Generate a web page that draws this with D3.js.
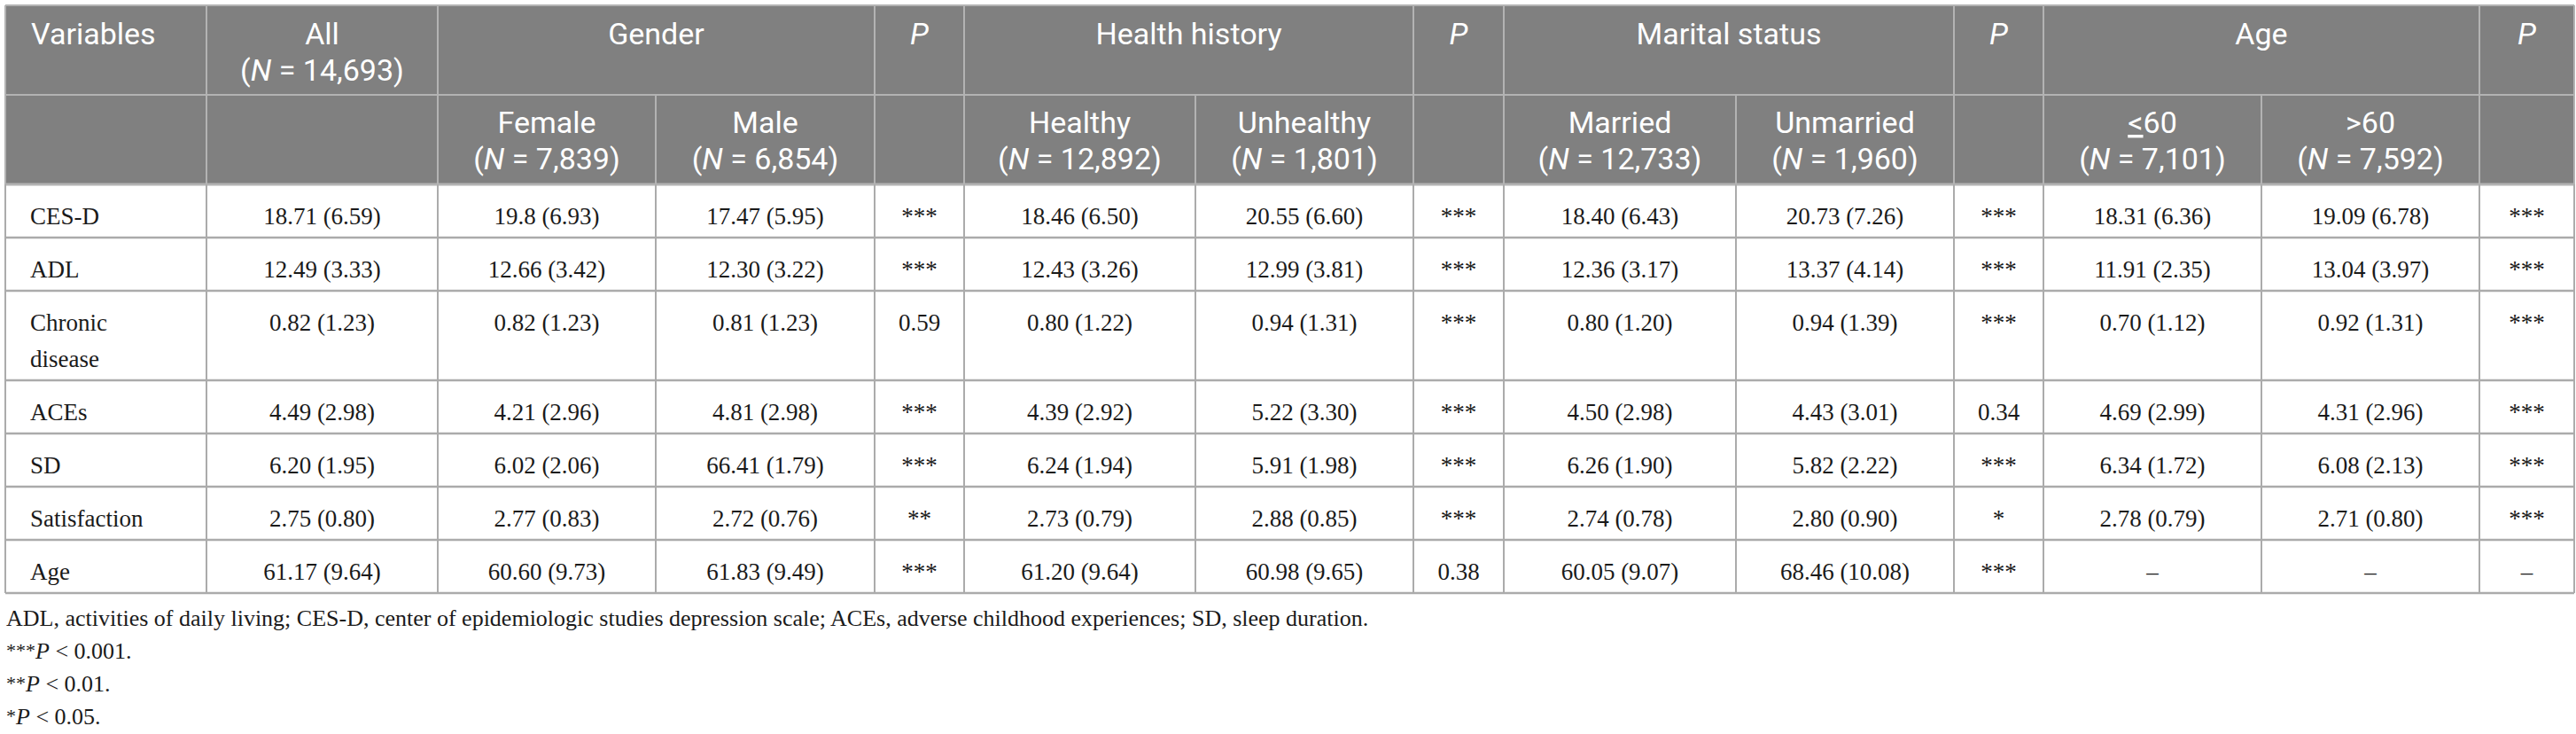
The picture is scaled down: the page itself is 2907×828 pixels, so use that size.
<!DOCTYPE html>
<html>
<head>
<meta charset="utf-8">
<script src="https://cdn.jsdelivr.net/npm/d3@7/dist/d3.min.js"></script>
<style>
  html, body { margin: 0; padding: 0; background: #fff; }
  svg { display: block; }
</style>
</head>
<body>
<svg id="chart" width="2907" height="828"></svg>
<script>
// ---------------- DATA ----------------
const variables = ["CES-D", "ADL", "Chronic disease", "ACEs", "SD", "Satisfaction", "Age"];

const groupLabels = ["Gender", "Health history", "Marital status", "Age"];
const allLabel = "All";
const allN = "14,693";
const subLabels = ["Female", "Male", "Healthy", "Unhealthy", "Married", "Unmarried", "\u226460", ">60"];
const subNs = ["7,839", "6,854", "12,892", "1,801", "12,733", "1,960", "7,101", "7,592"];

const allValues      = ["18.71 (6.59)", "12.49 (3.33)", "0.82 (1.23)", "4.49 (2.98)", "6.20 (1.95)", "2.75 (0.80)", "61.17 (9.64)"];
const femaleValues   = ["19.8 (6.93)", "12.66 (3.42)", "0.82 (1.23)", "4.21 (2.96)", "6.02 (2.06)", "2.77 (0.83)", "60.60 (9.73)"];
const maleValues     = ["17.47 (5.95)", "12.30 (3.22)", "0.81 (1.23)", "4.81 (2.98)", "66.41 (1.79)", "2.72 (0.76)", "61.83 (9.49)"];
const pGender        = ["***", "***", "0.59", "***", "***", "**", "***"];
const healthyValues  = ["18.46 (6.50)", "12.43 (3.26)", "0.80 (1.22)", "4.39 (2.92)", "6.24 (1.94)", "2.73 (0.79)", "61.20 (9.64)"];
const unhealthyValues= ["20.55 (6.60)", "12.99 (3.81)", "0.94 (1.31)", "5.22 (3.30)", "5.91 (1.98)", "2.88 (0.85)", "60.98 (9.65)"];
const pHealth        = ["***", "***", "***", "***", "***", "***", "0.38"];
const marriedValues  = ["18.40 (6.43)", "12.36 (3.17)", "0.80 (1.20)", "4.50 (2.98)", "6.26 (1.90)", "2.74 (0.78)", "60.05 (9.07)"];
const unmarriedValues= ["20.73 (7.26)", "13.37 (4.14)", "0.94 (1.39)", "4.43 (3.01)", "5.82 (2.22)", "2.80 (0.90)", "68.46 (10.08)"];
const pMarital       = ["***", "***", "***", "0.34", "***", "*", "***"];
const ageLeValues    = ["18.31 (6.36)", "11.91 (2.35)", "0.70 (1.12)", "4.69 (2.99)", "6.34 (1.72)", "2.78 (0.79)", "\u2013"];
const ageGtValues    = ["19.09 (6.78)", "13.04 (3.97)", "0.92 (1.31)", "4.31 (2.96)", "6.08 (2.13)", "2.71 (0.80)", "\u2013"];
const pAge           = ["***", "***", "***", "***", "***", "***", "\u2013"];

const footnoteText = "ADL, activities of daily living; CES-D, center of epidemiologic studies depression scale; ACEs, adverse childhood experiences; SD, sleep duration.";
const sigStars = ["***", "**", "*"];
const sigThresholds = ["0.001", "0.01", "0.05"];

// ---------------- LAYOUT ----------------
const colEdges = [6, 233, 494, 740, 987, 1088, 1349, 1595, 1697, 1959, 2205, 2306, 2552, 2798, 2905];
const headTop = 6, headMid = 107, headBottom = 208;
const rowHeights = [60, 60, 101, 60, 60, 60, 60];
const HEADER_BG = "#808080";
const HEAD_LINE = "#b3b3b3";
const BODY_LINE = "#ababab";
const SANS = "Roboto, 'Open Sans', sans-serif";
const SERIF = "'Liberation Serif', 'Times New Roman', serif";

const svg = d3.select("#chart");
const colCenter = i => (colEdges[i] + colEdges[i + 1]) / 2;

const bodyColumns = [allValues, femaleValues, maleValues, pGender, healthyValues, unhealthyValues, pHealth,
                     marriedValues, unmarriedValues, pMarital, ageLeValues, ageGtValues, pAge];

const rowTops = [];
rowHeights.reduce((acc, h) => { rowTops.push(acc); return acc + h; }, headBottom);
const tableBottom = headBottom + d3.sum(rowHeights);

// ---------------- HEADER ----------------
const xL = colEdges[0], xR = colEdges[colEdges.length - 1];
svg.append("rect").attr("x", xL).attr("y", headTop).attr("width", xR - xL).attr("height", headBottom - headTop)
  .attr("fill", HEADER_BG);

const gHead = svg.append("g").attr("fill", "#fff").attr("font-family", SANS).attr("font-size", 34);

const head1 = [
  { c0: 0, c1: 1, kind: "left", text: "Variables" },
  { c0: 1, c1: 2, kind: "n", text: allLabel, n: allN },
  { c0: 2, c1: 4, kind: "plain", text: groupLabels[0] },
  { c0: 4, c1: 5, kind: "p" },
  { c0: 5, c1: 7, kind: "plain", text: groupLabels[1] },
  { c0: 7, c1: 8, kind: "p" },
  { c0: 8, c1: 10, kind: "plain", text: groupLabels[2] },
  { c0: 10, c1: 11, kind: "p" },
  { c0: 11, c1: 13, kind: "plain", text: groupLabels[3] },
  { c0: 13, c1: 14, kind: "p" }
];
const subCols = [2, 3, 5, 6, 8, 9, 11, 12];

function addNLine(sel, x, y, n) {
  const t = sel.append("text").attr("x", x).attr("y", y).attr("text-anchor", "middle");
  t.append("tspan").text("(");
  t.append("tspan").attr("font-style", "italic").text("N");
  t.append("tspan").text(" = " + n + ")");
}

function addLabelLine(sel, x, y, label) {
  const t = sel.append("text").attr("x", x).attr("y", y).attr("text-anchor", "middle");
  if (label.startsWith("\u2264")) {
    t.append("tspan").attr("text-decoration", "underline").text("<");
    t.append("tspan").text(label.slice(1));
  } else {
    t.text(label);
  }
}

const r1Base = headTop + 44, r2Base = headMid + 43, lineH = 41;
head1.forEach(h => {
  const cx = (colEdges[h.c0] + colEdges[h.c1]) / 2;
  if (h.kind === "left") {
    gHead.append("text").attr("x", colEdges[h.c0] + 29).attr("y", r1Base).text(h.text);
  } else if (h.kind === "p") {
    gHead.append("text").attr("x", cx).attr("y", r1Base).attr("text-anchor", "middle")
      .attr("font-style", "italic").text("P");
  } else if (h.kind === "n") {
    gHead.append("text").attr("x", cx).attr("y", r1Base).attr("text-anchor", "middle").text(h.text);
    addNLine(gHead, cx, r1Base + lineH, h.n);
  } else {
    gHead.append("text").attr("x", cx).attr("y", r1Base).attr("text-anchor", "middle").text(h.text);
  }
});

subCols.forEach((c, i) => {
  const cx = colCenter(c);
  addLabelLine(gHead, cx, r2Base, subLabels[i]);
  addNLine(gHead, cx, r2Base + lineH, subNs[i]);
});

const gHL = svg.append("g").attr("stroke", HEAD_LINE).attr("stroke-width", 2);
gHL.append("line").attr("x1", xL).attr("x2", xR).attr("y1", headTop).attr("y2", headTop);
gHL.append("line").attr("x1", xL).attr("x2", xR).attr("y1", headMid).attr("y2", headMid);
const row1Edges = [...new Set(head1.flatMap(h => [h.c0, h.c1]))];
row1Edges.forEach(e => {
  gHL.append("line").attr("x1", colEdges[e]).attr("x2", colEdges[e]).attr("y1", headTop).attr("y2", headBottom);
});
[3, 6, 9, 12].forEach(e => {
  gHL.append("line").attr("x1", colEdges[e]).attr("x2", colEdges[e]).attr("y1", headMid).attr("y2", headBottom);
});

// ---------------- BODY ----------------
const gBody = svg.append("g").attr("fill", "#1a1a1a").attr("font-family", SERIF).attr("font-size", 27);
const textOffset = 45, bodyLineH = 41;

variables.forEach((v, r) => {
  const y0 = rowTops[r] + textOffset;
  const words = v.split(" ");
  const t = gBody.append("text").attr("x", colEdges[0] + 28).attr("y", y0);
  if (words.length > 1) {
    words.forEach((w, k) => t.append("tspan").attr("x", colEdges[0] + 28).attr("dy", k === 0 ? 0 : bodyLineH).text(w));
  } else {
    t.text(v);
  }
  bodyColumns.forEach((col, ci) => {
    gBody.append("text").attr("x", colCenter(ci + 1)).attr("y", y0).attr("text-anchor", "middle").text(col[r]);
  });
});

const gBL = svg.append("g").attr("stroke", BODY_LINE);
rowTops.slice(1).concat([tableBottom]).forEach(y => {
  gBL.append("line").attr("x1", xL).attr("x2", xR).attr("y1", y).attr("y2", y).attr("stroke-width", 2.5);
});
gBL.append("line").attr("x1", xL).attr("x2", xR).attr("y1", headBottom).attr("y2", headBottom)
  .attr("stroke", HEAD_LINE).attr("stroke-width", 3);
colEdges.forEach(x => {
  gBL.append("line").attr("x1", x).attr("x2", x).attr("y1", headBottom).attr("y2", tableBottom).attr("stroke-width", 2);
});

// ---------------- FOOTNOTES ----------------
const gFoot = svg.append("g").attr("fill", "#1a1a1a").attr("font-family", SERIF).attr("font-size", 26);
const footBase = 706, footLH = 37;
gFoot.append("text").attr("x", 7).attr("y", footBase).text(footnoteText);
sigStars.forEach((s, i) => {
  const t = gFoot.append("text").attr("x", 7).attr("y", footBase + footLH * (i + 1));
  t.append("tspan").attr("font-size", 22).attr("dy", -2).text(s);
  t.append("tspan").attr("font-style", "italic").attr("dy", 2).text("P");
  t.append("tspan").text(" < " + sigThresholds[i] + ".");
});
</script>
</body>
</html>
